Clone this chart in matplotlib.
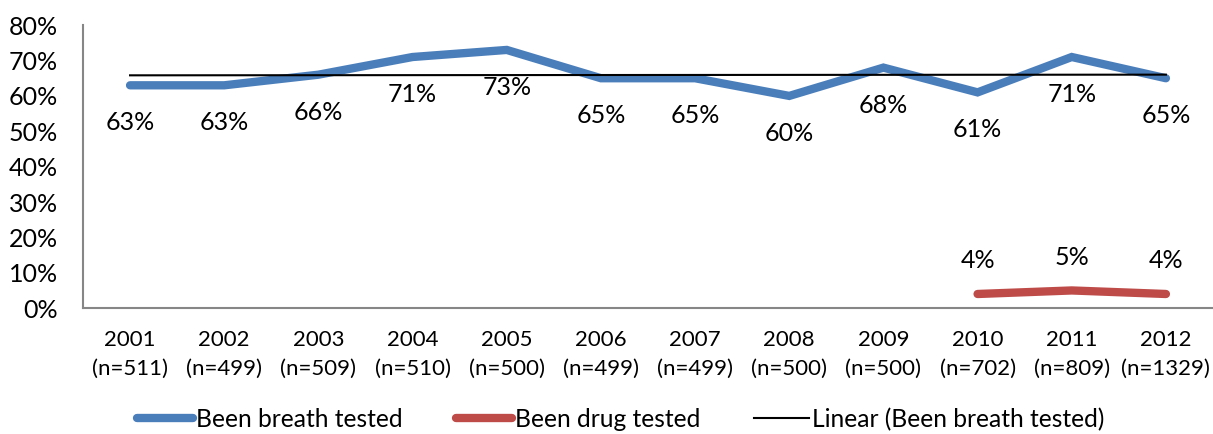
import matplotlib.pyplot as plt
import numpy as np

plt.rcParams['font.family'] = ['Lato', 'DejaVu Sans']

# survey years and sample sizes
years = ['2001', '2002', '2003', '2004', '2005', '2006',
         '2007', '2008', '2009', '2010', '2011', '2012']
n_sizes = [511, 499, 509, 510, 500, 499, 499, 500, 500, 702, 809, 1329]

# % of respondents
breath = [63, 63, 66, 71, 73, 65, 65, 60, 68, 61, 71, 65]
drug_years = ['2010', '2011', '2012']
drug = [4, 5, 4]

blue = '#4A7EBB'
red = '#BE4B48'

fig = plt.figure(figsize=(12.13, 4.34), dpi=100)
ax = fig.add_axes([0.0684, 0.29, 0.9316, 0.652])

x = np.arange(len(years))
xd = np.array([years.index(y) for y in drug_years])

ax.plot(x, breath, color=blue, lw=6, solid_capstyle='round',
        solid_joinstyle='miter', label='Been breath tested')
ax.plot(xd, drug, color=red, lw=6, solid_capstyle='round',
        label='Been drug tested')

# linear trend of breath tests
slope, icpt = np.polyfit(x, breath, 1)
ax.plot(x, slope * x + icpt, color='black', lw=1.5,
        label='Linear (Been breath tested)')

for xi, v in zip(x, breath):
    ax.annotate(f'{v}%', (xi, v), xytext=(0, -27), textcoords='offset points',
                ha='center', va='center', fontsize=18)
for xi, v in zip(xd, drug):
    ax.annotate(f'{v}%', (xi, v), xytext=(0, 24), textcoords='offset points',
                ha='center', va='center', fontsize=18)

ax.set_xlim(-0.5, len(years) - 0.5)
ax.set_ylim(0, 80)
ax.set_yticks(range(0, 81, 10))
ax.set_yticklabels([f'{t}%' for t in range(0, 81, 10)], fontsize=18)
ax.set_xticks(x)
ax.set_xticklabels([f'{y}\n(n={n})' for y, n in zip(years, n_sizes)],
                   fontsize=16, linespacing=1.5)
ax.tick_params(axis='y', length=0, pad=18)
ax.tick_params(axis='x', length=0, pad=16)

for s in ['top', 'right']:
    ax.spines[s].set_visible(False)
for s in ['left', 'bottom']:
    ax.spines[s].set_color('#868686')
    ax.spines[s].set_linewidth(1.5)

fig.legend(loc='center', bbox_to_anchor=(0.512, 0.034), ncol=3, frameon=False,
           fontsize=17.7, handlelength=2.25, handletextpad=0.12, columnspacing=2.2)

fig.savefig('out.png', dpi=100)
